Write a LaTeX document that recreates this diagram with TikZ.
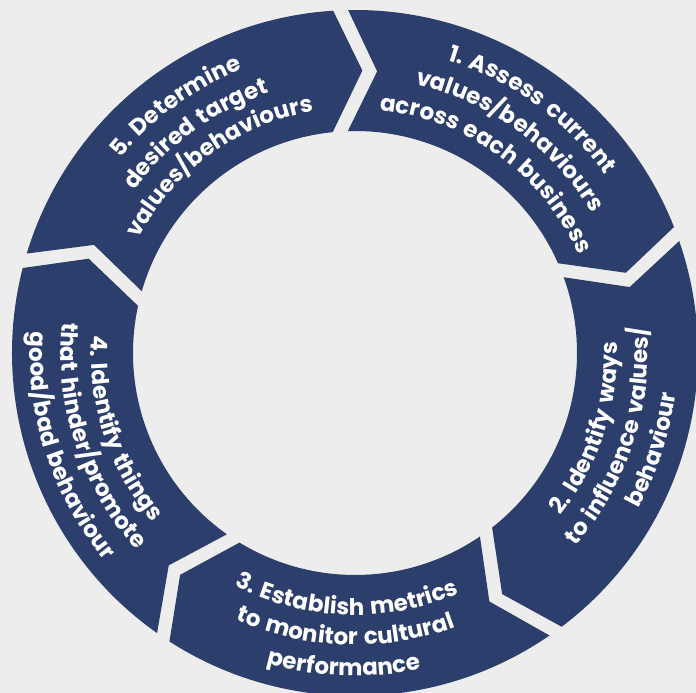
\documentclass[tikz,border=0pt]{standalone}
\usepackage{fontspec}
\usepackage{tikz}
\usetikzlibrary{decorations.text}
\newfontfamily\segfont{Poppins}
\definecolor{C_RING}{HTML}{2C3E6B}
\definecolor{C_BACK}{HTML}{EDEDED}
\newcommand{\segsize}{\segfont\bfseries\fontsize{23}{28}\selectfont\spaceskip=6.5pt\relax}
\tikzset{
  %% -- ring segment (arrow bent round the centre) --
  cyc/seg/.style={fill=C_RING},
  %% -- white label set along an arc --
  cyc/lbl/.style={
    decorate, decoration={
      text along path, text align=center, text color=white,
      text={|\segsize|#1}
    }
  },
}
%% label lines: centre angle, baseline radius, text
\newcommand{\cwtext}[3]{%
  \path[cyc/lbl={#3}] (#1+40:#2) arc[start angle=#1+40, end angle=#1-40, radius=#2];}
\newcommand{\ccwtext}[3]{%
  \path[cyc/lbl={#3}] (#1-40:#2) arc[start angle=#1-40, end angle=#1+40, radius=#2];}

\begin{document}
\begin{tikzpicture}[x=1pt, y=1pt]
\segsize
\fill[C_BACK] (-355,-340) rectangle (341,353);
\useasboundingbox (-355,-340) rectangle (341,353);

%% Segments, clockwise from the top (outer/inner angle of each end)
\foreach \so/\si/\eo/\ei in {92.4/93.8/20.3/21.9, 20.3/21.9/-54.2/-53.8,
    -54.2/-53.8/-124/-123.3, 236/236.7/164.4/165.8, 164.4/165.8/92.4/93.8}
  \fill[cyc/seg] (\so-1.25:343) arc[start angle=\so-1.25, end angle=\eo+1.25, radius=343]
    -- ({(\eo+\ei)/2-4.6}:282.5) -- (\ei+1.95:222)
    arc[start angle=\ei+1.95, end angle=\si-1.95, radius=222]
    -- ({(\so+\si)/2-7.6}:282.5) -- cycle;

%% 1
\cwtext{54}{307}{1. Assess current}
\cwtext{54}{275}{values/behaviours}
\cwtext{54}{244}{across each business}
%% 2
\ccwtext{-18}{262}{2. Identify ways}
\ccwtext{-18}{293}{to influence values/}
\ccwtext{-18}{323}{behaviour}
%% 3
\ccwtext{-92}{262}{3. Establish metrics}
\ccwtext{-92}{292}{to monitor cultural}
\ccwtext{-92}{323}{performance}
%% 4
\ccwtext{198}{264}{4. Identify things}
\ccwtext{198}{294}{that hinder/promote}
\ccwtext{198}{325}{good/bad behaviour}
%% 5
\cwtext{126}{305}{5. Determine}
\cwtext{126}{274}{desired target}
\cwtext{126}{245}{values/behaviours}
\end{tikzpicture}
\end{document}
